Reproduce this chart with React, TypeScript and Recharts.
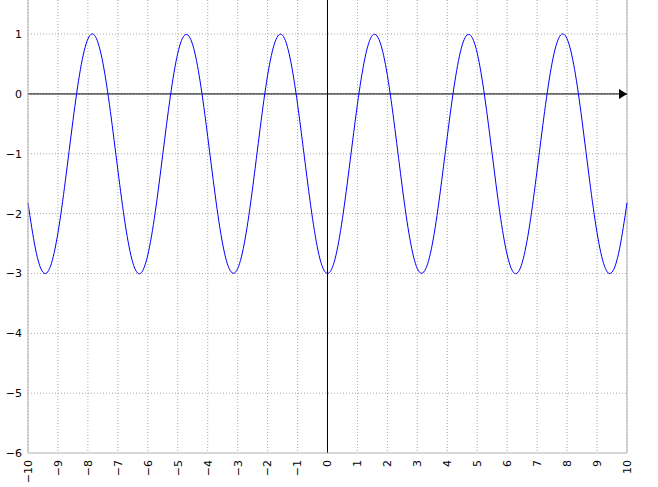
import { CartesianGrid, Line, LineChart, ReferenceLine, XAxis, YAxis } from "recharts";

// sample points (x step 0.25)
const xs = [
  -10, -9.75, -9.5, -9.25, -9, -8.75, -8.5, -8.25, -8, -7.75, -7.5, -7.25, -7, -6.75, -6.5, -6.25,
  -6, -5.75, -5.5, -5.25, -5, -4.75, -4.5, -4.25, -4, -3.75, -3.5, -3.25, -3, -2.75, -2.5, -2.25,
  -2, -1.75, -1.5, -1.25, -1, -0.75, -0.5, -0.25, 0, 0.25, 0.5, 0.75, 1, 1.25, 1.5, 1.75,
  2, 2.25, 2.5, 2.75, 3, 3.25, 3.5, 3.75, 4, 4.25, 4.5, 4.75, 5, 5.25, 5.5, 5.75,
  6, 6.25, 6.5, 6.75, 7, 7.25, 7.5, 7.75, 8, 8.25, 8.5, 8.75, 9, 9.25, 9.5, 9.75, 10,
];
const ys = [
  -1.82, -2.59, -2.98, -2.88, -2.32, -1.44, -0.45, 0.41, 0.92, 0.96, 0.52, -0.29, -1.27, -2.19, -2.82, -3.0,
  -2.69, -1.97, -1.01, -0.05, 0.68, 0.99, 0.82, 0.2, -0.71, -1.69, -2.51, -2.95, -2.92, -2.42, -1.57, -0.58,
  0.31, 0.87, 0.98, 0.6, -0.17, -1.14, -2.08, -2.76, -3.0, -2.76, -2.08, -1.14, -0.17, 0.6, 0.98, 0.87,
  0.31, -0.58, -1.57, -2.42, -2.92, -2.95, -2.51, -1.69, -0.71, 0.2, 0.82, 0.99, 0.68, -0.05, -1.01, -1.97,
  -2.69, -3.0, -2.82, -2.19, -1.27, -0.29, 0.52, 0.96, 0.92, 0.41, -0.45, -1.44, -2.32, -2.88, -2.98, -2.59, -1.82,
];
const xTicks = [-10, -9, -8, -7, -6, -5, -4, -3, -2, -1, 0, 1, 2, 3, 4, 5, 6, 7, 8, 9, 10];
const yTicks = [-6, -5, -4, -3, -2, -1, 0, 1];

const data = xs.map((x, i) => ({ x, y: ys[i] }));

const font = "DejaVu Sans, sans-serif";
const minus = (v: number) => String(v).replace("-", "\u2212");

function XTick(props: any) {
  const { x, y, payload } = props;
  return (
    <text
      transform={`translate(${x},${y}) rotate(-90)`}
      textAnchor="end"
      dy="0.35em"
      fontSize={11}
      fontFamily={font}
      fill="#000"
    >
      {minus(payload.value)}
    </text>
  );
}

function ArrowAxis(props: any) {
  const { x1, y1, x2 } = props;
  return (
    <g>
      <line x1={x1} y1={y1} x2={x2} y2={y1} stroke="#000" strokeWidth={1} />
      <polygon points={`${x2},${y1} ${x2 - 8},${y1 - 5} ${x2 - 8},${y1 + 5}`} fill="#000" />
    </g>
  );
}

export default function App() {
  return (
    <div style={{ position: "absolute", left: 0, top: 0, background: "#fff" }}>
      <LineChart width={658} height={487} data={data} margin={{ top: 0, right: 31, bottom: 0, left: 0 }}>
        <CartesianGrid stroke="#aaa" strokeDasharray="1 2" horizontal={false} />
        <XAxis
          dataKey="x"
          type="number"
          domain={[-10, 10]}
          ticks={xTicks}
          interval={0}
          height={34}
          stroke="#b0b0b0"
          tickLine={false}
          tickSize={4}
          tickMargin={3}
          tick={<XTick />}
        />
        <YAxis
          type="number"
          domain={[-6, 1.57]}
          ticks={yTicks}
          interval={0}
          width={28}
          stroke="#b0b0b0"
          tickLine={false}
          tickSize={4}
          tickMargin={2}
          tickFormatter={minus}
          tick={{ fontSize: 11, fontFamily: font, fill: "#000" }}
          allowDataOverflow
        />
        {yTicks.filter((t) => t !== -6).map((t) => (
          <ReferenceLine key={t} y={t} stroke="#aaa" strokeDasharray="1 2" />
        ))}
        <ReferenceLine x={10} stroke="#b0b0b0" />
        <ReferenceLine x={0} stroke="#000" />
        <ReferenceLine y={0} shape={<ArrowAxis />} />
        <Line
          dataKey="y"
          type="natural"
          stroke="#0000ff"
          strokeWidth={1}
          dot={false}
          isAnimationActive={false}
        />
      </LineChart>
    </div>
  );
}
